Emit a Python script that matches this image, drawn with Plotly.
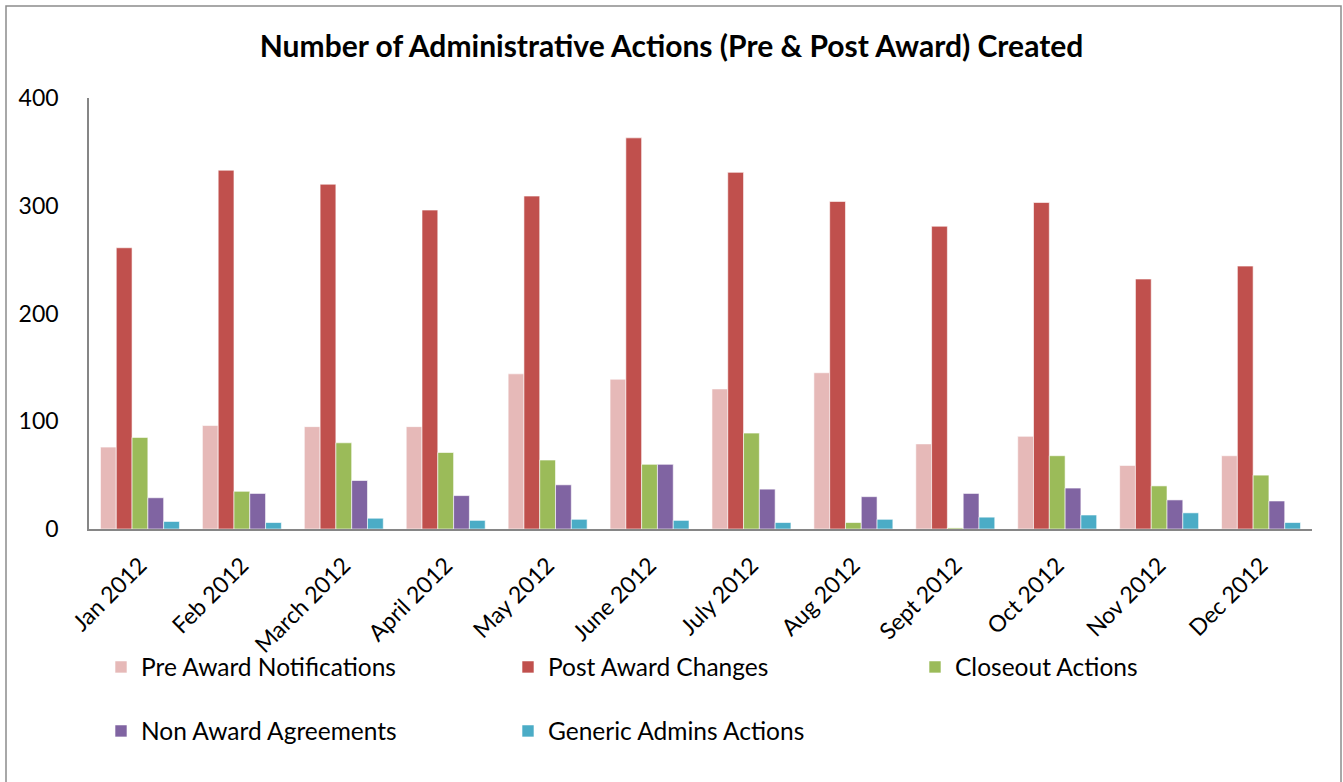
import plotly.graph_objects as go

months = ["Jan 2012", "Feb 2012", "March 2012", "April 2012", "May 2012", "June 2012",
          "July 2012", "Aug 2012", "Sept 2012", "Oct 2012", "Nov 2012", "Dec 2012"]
pre_award = [76, 96, 95, 95, 144, 139, 130, 145, 79, 86, 59, 68]
post_award = [261, 333, 320, 296, 309, 363, 331, 304, 281, 303, 232, 244]
closeout = [85, 35, 80, 71, 64, 60, 89, 6, 1, 68, 40, 50]
non_award = [29, 33, 45, 31, 41, 60, 37, 30, 33, 38, 27, 26]
generic = [7, 6, 10, 8, 9, 8, 6, 9, 11, 13, 15, 6]
y_ticks = [0, 100, 200, 300, 400]

series_names = ["Pre Award Notifications", "Post Award Changes", "Closeout Actions",
                "Non Award Agreements", "Generic Admins Actions"]
series_values = [pre_award, post_award, closeout, non_award, generic]
series_colors = ["#E6B9B8", "#C0504D", "#9BBB59", "#8064A2", "#4BACC6"]

W, H = 1343, 782
L, R, T, B = 89, 31, 98, 253
pw, ph = W - L - R, H - T - B

def px_x(p):
    return (p - L) / pw

def px_y(p):
    return (H - B - p) / ph

# legend slot positions (pixel position of each legend's left edge / row centre)
legend_slots = [(101, 667), (508, 667), (915, 667), (101, 731), (508, 731)]

FONT = "Lato"
fig = go.Figure()
legend_layout = {}
for i, (name, vals, color) in enumerate(zip(series_names, series_values, series_colors)):
    key = "legend" if i == 0 else f"legend{i + 1}"
    fig.add_trace(go.Bar(
        x=months, y=vals, name=name, legend=key, showlegend=True,
        marker=dict(color=color, line=dict(color="white", width=0.6)),
    ))
    lx, ly = legend_slots[i]
    legend_layout[key] = dict(orientation="h", x=px_x(lx), xanchor="left", y=px_y(ly),
                              yanchor="middle", font=dict(size=24.5),
                              bgcolor="rgba(0,0,0,0)", visible=True)

fig.update_layout(
    width=W, height=H,
    showlegend=True,
    margin=dict(l=L, r=R, t=T, b=B, autoexpand=False),
    paper_bgcolor="white", plot_bgcolor="white",
    barmode="group", bargap=0.225, bargroupgap=0,
    font=dict(family=FONT, color="black"),
    title=dict(text="<b>Number of Administrative Actions (Pre & Post Award) Created</b>",
               x=0.5, xanchor="center", y=1 - 46 / H, yanchor="middle",
               font=dict(family=FONT, size=30, color="black")),
    xaxis=dict(showline=True, linecolor="#868686", linewidth=1.5, showgrid=False,
               tickangle=-45, tickfont=dict(size=23), ticks="", zeroline=False,
               automargin=False, ticklabelstandoff=12),
    yaxis=dict(range=[0, 400], tickvals=y_ticks, showline=True, linecolor="#868686",
               linewidth=1.5, showgrid=False, zeroline=False, ticks="outside",
               ticklen=24, tickcolor="rgba(0,0,0,0)", tickfont=dict(size=23),
               automargin=False),
    shapes=[
        dict(type="rect", xref="paper", yref="paper", x0=px_x(6), x1=px_x(1341),
             y0=px_y(900), y1=px_y(6), line=dict(color="#8C8C8C", width=1.5),
             fillcolor="rgba(0,0,0,0)", layer="below"),
    ],
    **legend_layout,
)

fig.write_html("out.html", config={"displayModeBar": False},
               post_script="document.body.style.margin='0';")
